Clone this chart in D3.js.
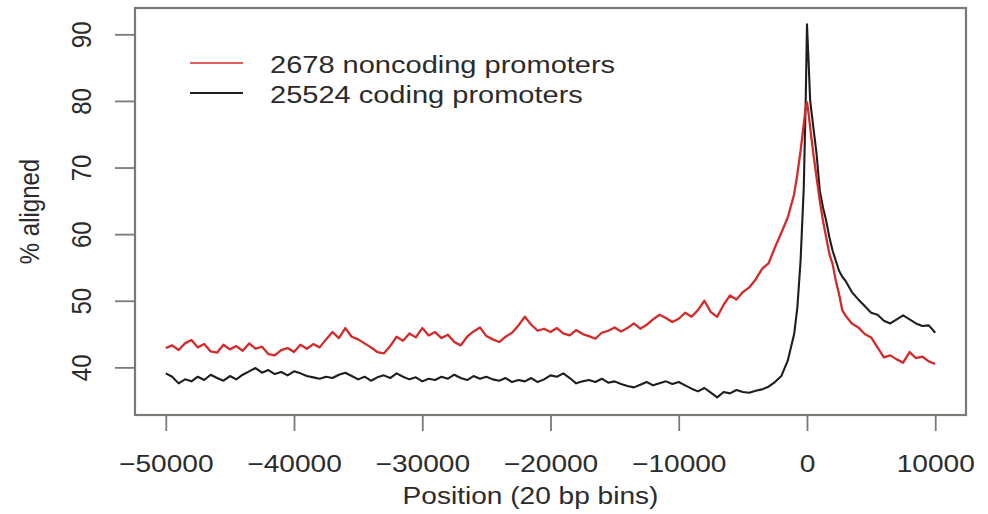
<!DOCTYPE html>
<html>
<head>
<meta charset="utf-8">
<script src="https://cdn.jsdelivr.net/npm/d3@7/dist/d3.min.js"></script>
<style>
  html, body { margin: 0; padding: 0; background: #fff; }
  svg { display: block; }
  text { font-family: "Liberation Sans", Arial, Helvetica, sans-serif; fill: #2b2b2b; }
</style>
</head>
<body>
<svg id="chart" width="988" height="514"></svg>
<script>
// Positions in bp relative to the TSS (20 bp bins, sampled)
const positions = [
  -50000,-49500,-49000,-48500,-48000,-47500,-47000,-46500,-46000,-45500,
  -45000,-44500,-44000,-43500,-43000,-42500,-42000,-41500,-41000,-40500,
  -40000,-39500,-39000,-38500,-38000,-37500,-37000,-36500,-36000,-35500,
  -35000,-34500,-34000,-33500,-33000,-32500,-32000,-31500,-31000,-30500,
  -30000,-29500,-29000,-28500,-28000,-27500,-27000,-26500,-26000,-25500,
  -25000,-24500,-24000,-23500,-23000,-22500,-22000,-21500,-21000,-20500,
  -20000,-19500,-19000,-18500,-18000,-17500,-17000,-16500,-16000,-15500,
  -15000,-14500,-14000,-13500,-13000,-12500,-12000,-11500,-11000,-10500,
  -10000,-9500,-9000,-8500,-8000,-7500,-7000,-6500,-6000,-5500,
  -5000,-4500,-4000,-3500,-3000,-2500,-2000,-1500,-1000,-750,
  -500,-250,-100,0,100,250,500,750,1000,1250,
  1500,1750,2000,2250,2500,2750,3000,3500,4000,4500,
  5000,5500,6000,6500,7000,7500,8000,8500,9000,9500,
  10000
];

// % aligned, 2678 noncoding promoters
const noncoding = [
  42.9,43.3,42.6,43.6,44.1,43.0,43.5,42.4,42.2,43.4,
  42.7,43.2,42.5,43.6,42.8,43.1,42.0,41.8,42.6,42.9,
  42.3,43.4,42.8,43.5,43.0,44.2,45.3,44.4,45.9,44.6,
  44.2,43.6,43.0,42.3,42.1,43.2,44.6,44.0,45.1,44.5,
  45.9,44.8,45.3,44.4,44.9,43.8,43.3,44.6,45.4,46.0,
  44.7,44.2,43.8,44.6,45.2,46.3,47.6,46.4,45.5,45.8,
  45.3,45.9,45.1,44.8,45.6,45.0,44.7,44.3,45.2,45.5,
  46.0,45.4,45.9,46.6,45.8,46.4,47.2,47.9,47.4,46.8,
  47.3,48.2,47.6,48.6,50.0,48.3,47.6,49.4,50.8,50.2,
  51.3,52.0,53.2,54.8,55.6,58.0,60.2,62.5,66.0,69.0,
  72.5,76.5,79.0,79.8,78.5,76.0,72.0,68.5,65.0,62.0,
  59.5,57.0,55.5,53.0,51.0,48.6,47.8,46.6,46.0,45.0,
  44.5,43.0,41.5,41.8,41.2,40.7,42.3,41.4,41.6,40.9,
  40.5
];

// % aligned, 25524 coding promoters
const coding = [
  39.1,38.6,37.6,38.2,37.9,38.6,38.1,38.9,38.4,38.0,
  38.7,38.2,38.9,39.4,39.9,39.2,39.6,39.0,39.3,38.8,
  39.4,39.1,38.7,38.5,38.3,38.6,38.4,38.9,39.2,38.7,
  38.2,38.6,38.0,38.5,38.8,38.4,39.1,38.6,38.2,38.5,
  37.9,38.3,38.1,38.6,38.3,38.9,38.4,38.1,38.7,38.3,
  38.6,38.2,38.0,38.4,37.8,38.1,37.9,38.4,37.8,38.2,
  38.8,38.6,39.1,38.4,37.6,37.9,38.1,37.8,38.3,37.7,
  37.9,37.5,37.2,37.0,37.4,37.8,37.3,37.6,37.9,37.5,
  37.8,37.3,36.8,36.4,36.9,36.2,35.5,36.3,36.1,36.6,
  36.3,36.2,36.5,36.7,37.1,37.8,38.7,41.0,45.0,49.0,
  56.0,67.0,80.0,91.5,87.0,80.0,76.0,72.0,66.5,64.0,
  62.0,59.5,57.5,56.0,54.5,53.6,53.0,51.3,50.2,49.2,
  48.2,47.9,47.0,46.6,47.2,47.8,47.2,46.6,46.2,46.3,
  45.2
];

const seriesNames = ["2678 noncoding promoters", "25524 coding promoters"];
const seriesColors = ["#d42a2a", "#1e1e1e"];
const xTicks = [-50000, -40000, -30000, -20000, -10000, 0, 10000];
const yTicks = [40, 50, 60, 70, 80, 90];

const svg = d3.select("#chart");
const box = { left: 135, right: 966, top: 8, bottom: 415 };
const SX = 1.17; // horizontal stretch applied to glyphs

const x = d3.scaleLinear().domain([-52400, 12400]).range([box.left, box.right]);
const y = d3.scaleLinear().domain([32.85, 93.95]).range([box.bottom, box.top]);

const frameColor = "#7d7873";

// Data lines: coding underneath, noncoding on top
const line = d3.line().x((d, i) => x(positions[i])).y(d => y(d));
[[coding, seriesColors[1], 2.1], [noncoding, seriesColors[0], 2.3]].forEach(([vals, col, w]) => {
  svg.append("path")
    .datum(vals)
    .attr("fill", "none")
    .attr("stroke", col)
    .attr("stroke-width", w)
    .attr("stroke-linejoin", "round")
    .attr("d", line);
});

// Plot frame
svg.append("rect")
  .attr("x", box.left).attr("y", box.top)
  .attr("width", box.right - box.left).attr("height", box.bottom - box.top)
  .attr("fill", "none").attr("stroke", frameColor).attr("stroke-width", 2.2);

// X axis
const gx = svg.append("g")
  .attr("transform", `translate(0,${box.bottom})`)
  .call(d3.axisBottom(x).tickValues(xTicks).tickSize(16).tickSizeOuter(0)
    .tickFormat(d => d < 0 ? "\u2212" + Math.abs(d) : String(d)));
gx.select(".domain").remove();
gx.selectAll(".tick line").attr("stroke", frameColor).attr("stroke-width", 1.8);
gx.selectAll(".tick text")
  .attr("y", 0).attr("dy", null)
  .attr("transform", `translate(0,57) scale(${SX},1)`)
  .style("font-size", "24px")
  .attr("fill", "#2b2b2b");

// Y axis
const gy = svg.append("g")
  .attr("transform", `translate(${box.left},0)`)
  .call(d3.axisLeft(y).tickValues(yTicks).tickSize(20).tickSizeOuter(0));
gy.select(".domain").remove();
gy.selectAll(".tick line").attr("stroke", frameColor).attr("stroke-width", 1.8);
gy.selectAll(".tick text")
  .attr("x", 0).attr("dy", null)
  .attr("text-anchor", "middle")
  .attr("transform", `translate(-44,0) scale(${SX},1) rotate(-90)`)
  .style("font-size", "24px")
  .attr("fill", "#2b2b2b");

svg.selectAll(".tick").attr("font-family", null).attr("font-size", null);

// Axis titles
svg.append("text")
  .attr("text-anchor", "middle")
  .attr("transform", `translate(${(box.left + box.right) / 2 - 20},504) scale(${SX},1)`)
  .style("font-size", "24px")
  .text("Position (20 bp bins)");

svg.append("text")
  .attr("text-anchor", "middle")
  .attr("transform", `translate(39,${(box.top + box.bottom) / 2}) scale(${SX},1) rotate(-90)`)
  .style("font-size", "24px")
  .text("% aligned");

// Legend
const legend = svg.append("g");
seriesNames.forEach((name, i) => {
  const ly = 63 + i * 30;
  legend.append("line")
    .attr("x1", 190).attr("x2", 243).attr("y1", ly).attr("y2", ly)
    .attr("stroke", seriesColors[i]).attr("stroke-width", i === 0 ? 1.4 : 2);
  legend.append("text")
    .attr("transform", `translate(270,${ly + 10}) scale(${SX},1)`)
    .style("font-size", "24.8px")
    .text(name);
});
</script>
</body>
</html>
